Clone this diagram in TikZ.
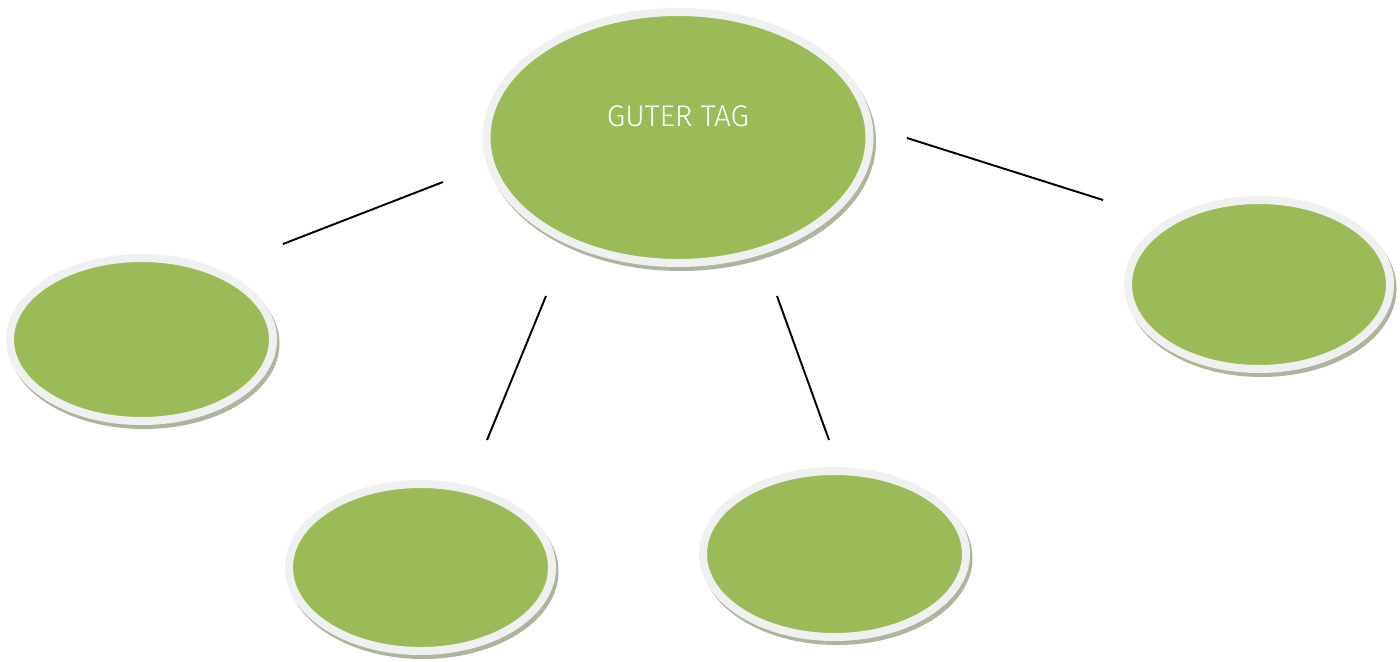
\documentclass[tikz,border=0pt]{standalone}
\usepackage{fontspec}
\setmainfont{Carlito}
\newfontfamily\lightfont{Fira Sans Light}
\definecolor{bubgreen}{HTML}{9BBB59}
\definecolor{ringgrey}{HTML}{F0F0F0}
\definecolor{shadowc}{HTML}{ADB59D}
\tikzset{
  bub/.style={ellipse, draw=ringgrey, line width=0.16cm, fill=bubgreen, inner sep=0pt,
    preaction={draw=shadowc, fill=shadowc, line width=0.16cm, transform canvas={shift={(0.05,-0.08)}}}},
  conn/.style={draw=black, line width=1.1pt}
}
\usetikzlibrary{shapes.geometric}
\begin{document}
\begin{tikzpicture}
\useasboundingbox (0,0) rectangle (28,-13.22);
\node[bub, minimum width=7.66cm, minimum height=5.02cm] (main) at (13.56,-2.75) {};
\node[bub, minimum width=5.26cm, minimum height=3.26cm] (left) at (2.83,-6.79) {};
\node[bub, minimum width=5.24cm, minimum height=3.38cm] (right) at (25.18,-5.69) {};
\node[bub, minimum width=5.26cm, minimum height=3.34cm] (bl) at (8.41,-11.35) {};
\node[bub, minimum width=5.26cm, minimum height=3.32cm] (bm) at (16.69,-11.08) {};
\node[text=white, font=\lightfont\fontsize{17}{20}\selectfont, inner sep=0pt] (maintext) at (13.56,-2.33) {GUTER TAG};
\coordinate (l1a) at (5.66,-4.88);
\coordinate (l1b) at (8.86,-3.64);
\coordinate (l2a) at (18.14,-2.76);
\coordinate (l2b) at (22.06,-4.00);
\coordinate (l3a) at (10.92,-5.92);
\coordinate (l3b) at (9.74,-8.80);
\coordinate (l4a) at (15.54,-5.92);
\coordinate (l4b) at (16.58,-8.80);
\draw[conn] (l1a) -- (l1b);
\draw[conn] (l2a) -- (l2b);
\draw[conn] (l3a) -- (l3b);
\draw[conn] (l4a) -- (l4b);
\end{tikzpicture}
\end{document}
